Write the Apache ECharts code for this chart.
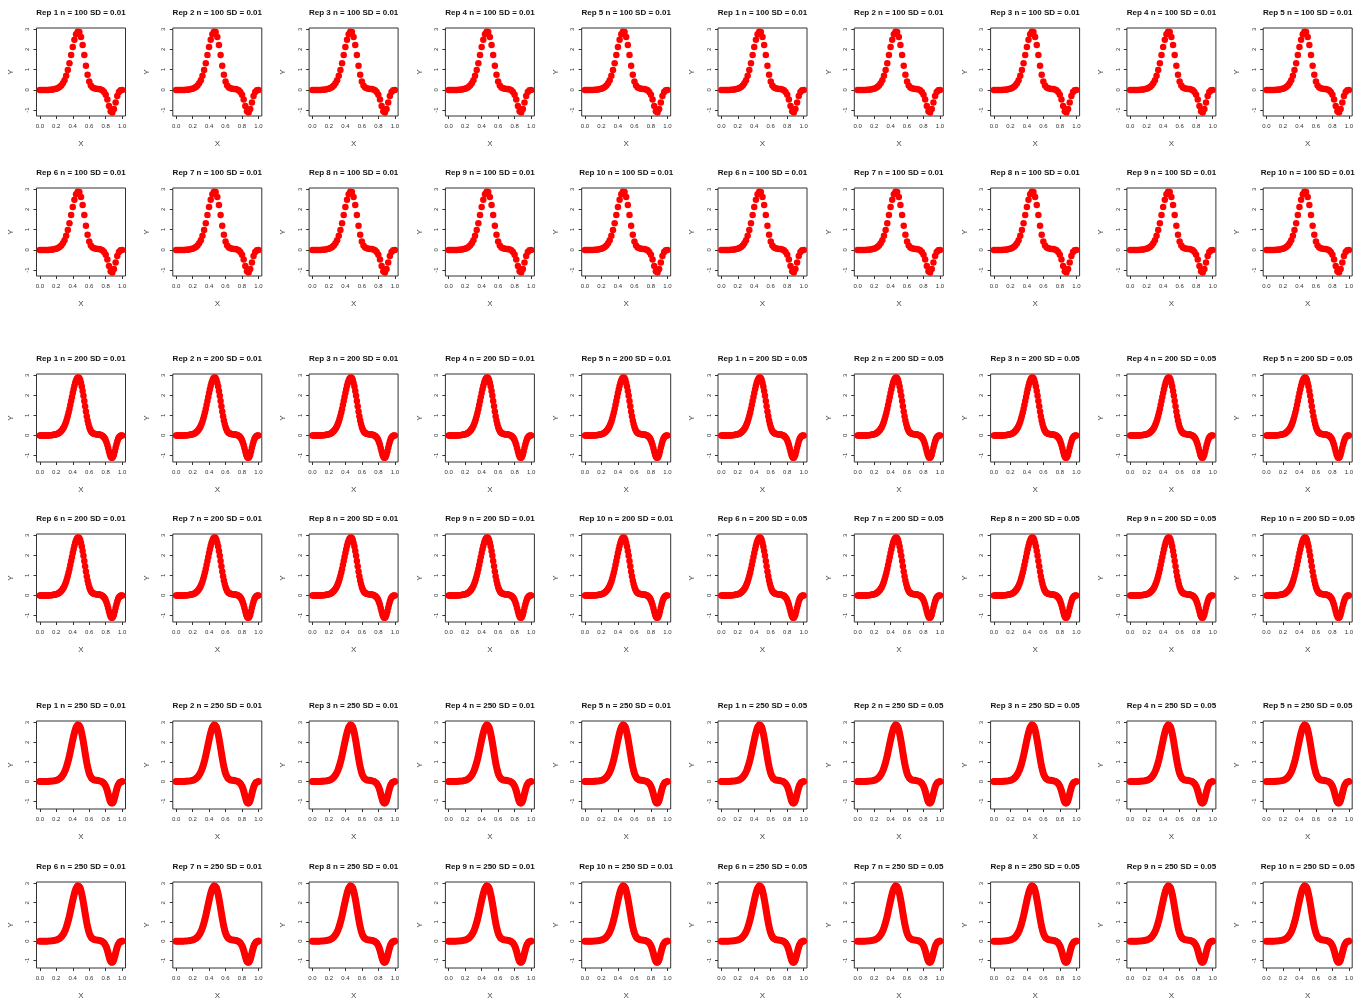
<!DOCTYPE html>
<html lang="en">
<head>
  <meta charset="UTF-8">
  <script src="https://cdn.jsdelivr.net/npm/echarts@6.0.0/dist/echarts.min.js"></script>
  <style>
    body, html { margin: 0; padding: 0; width: 100%; height: 100%; background: #fff; overflow: hidden; }
    #main { width: 1365px; height: 1001px; }
  </style>
</head>
<body>
  <div id="main"></div>
  <script type="text/javascript">
    // curve (x, y)
    var curveX = [0.00, 0.01, 0.02, 0.03, 0.04, 0.05, 0.06, 0.07, 0.08, 0.09,
      0.10, 0.11, 0.12, 0.13, 0.14, 0.15, 0.16, 0.17, 0.18, 0.19,
      0.20, 0.21, 0.22, 0.23, 0.24, 0.25, 0.26, 0.27, 0.28, 0.29,
      0.30, 0.31, 0.32, 0.33, 0.34, 0.35, 0.36, 0.37, 0.38, 0.39,
      0.40, 0.41, 0.42, 0.43, 0.44, 0.45, 0.46, 0.47, 0.48, 0.49,
      0.50, 0.51, 0.52, 0.53, 0.54, 0.55, 0.56, 0.57, 0.58, 0.59,
      0.60, 0.61, 0.62, 0.63, 0.64, 0.65, 0.66, 0.67, 0.68, 0.69,
      0.70, 0.71, 0.72, 0.73, 0.74, 0.75, 0.76, 0.77, 0.78, 0.79,
      0.80, 0.81, 0.82, 0.83, 0.84, 0.85, 0.86, 0.87, 0.88, 0.89,
      0.90, 0.91, 0.92, 0.93, 0.94, 0.95, 0.96, 0.97, 0.98, 0.99, 1.00];
    var curveY = [0.00, 0.00, 0.00, 0.00, 0.00, 0.00, 0.00, 0.00, 0.00, 0.00,
      0.00, 0.01, 0.01, 0.01, 0.01, 0.02, 0.02, 0.03, 0.04, 0.05,
      0.06, 0.07, 0.09, 0.11, 0.14, 0.18, 0.22, 0.27, 0.33, 0.40,
      0.48, 0.58, 0.70, 0.83, 0.98, 1.14, 1.32, 1.52, 1.72, 1.92,
      2.12, 2.31, 2.48, 2.63, 2.75, 2.83, 2.88, 2.89, 2.86, 2.77,
      2.62, 2.44, 2.22, 1.98, 1.72, 1.46, 1.20, 0.96, 0.75, 0.57,
      0.42, 0.31, 0.22, 0.16, 0.12, 0.10, 0.08, 0.07, 0.06, 0.06,
      0.05, 0.05, 0.04, 0.03, 0.02, 0.00, -0.02, -0.05, -0.10, -0.16,
      -0.24, -0.35, -0.48, -0.64, -0.80, -0.95, -1.06, -1.12, -1.12, -1.06,
      -0.95, -0.79, -0.62, -0.45, -0.30, -0.18, -0.10, -0.05, -0.02, 0.00, 0.00];

    // panel rows: sample size, first rep number, SD in left / right half
    var rowN = [100, 100, 200, 200, 250, 250];
    var rowRepStart = [1, 6, 1, 6, 1, 6];
    var rowSdLeft = ['0.01', '0.01', '0.01', '0.01', '0.01', '0.01'];
    var rowSdRight = ['0.01', '0.01', '0.05', '0.05', '0.05', '0.05'];
    var xTicks = [0, 0.2, 0.4, 0.6, 0.8, 1.0];
    var yTicks = [-1, 0, 1, 2, 3];
    var yLimits = { 100: [-1.29, 3.06], 200: [-1.33, 3.07], 250: [-1.4, 3.08] };

    var rowTop = [28, 188, 374, 534, 721, 882];
    var boxW = 89, boxH = 88;
    var font = 'Liberation Sans, Arial, sans-serif';

    var pts = curveX.map(function (x, i) { return [x, curveY[i]]; });
    var ptsSparse = pts.filter(function (p, i) { return i % 2 === 0; });

    // note: kept inside a function, a global "var top" would clash with window.top
    function buildOption() {
      var grids = [], xAxes = [], yAxes = [], titles = [], series = [];
      var idx = 0;
      for (var r = 0; r < 6; r++) {
        for (var c = 0; c < 10; c++) {
          var boxLeft = 36.5 + 136.3 * c;
          var boxTop = rowTop[r];
          var n = rowN[r];
          var rep = rowRepStart[r] + (c % 5);
          var sd = c < 5 ? rowSdLeft[r] : rowSdRight[r];
          grids.push({
            left: boxLeft, top: boxTop, width: boxW, height: boxH,
            show: true, borderColor: '#333', borderWidth: 1
          });
          xAxes.push({
            gridIndex: idx, type: 'value', min: -0.04, max: 1.04,
            name: 'X', nameLocation: 'middle', nameGap: 24,
            nameTextStyle: { fontSize: 8, color: '#444', fontFamily: font },
            splitLine: { show: false },
            axisLine: { show: false, onZero: false },
            axisTick: { show: true, length: 3, lineStyle: { color: '#333' }, customValues: xTicks.slice() },
            axisLabel: {
              fontSize: 6, color: '#333', margin: 7, fontFamily: font, customValues: xTicks.slice(),
              formatter: function (v) { return v.toFixed(1); }
            }
          });
          yAxes.push({
            gridIndex: idx, type: 'value', min: yLimits[n][0], max: yLimits[n][1],
            name: 'Y', nameLocation: 'middle', nameGap: 22, nameRotate: 90,
            nameTextStyle: { fontSize: 8, color: '#444', fontFamily: font },
            splitLine: { show: false },
            axisLine: { show: false, onZero: false },
            axisTick: { show: true, length: 3, lineStyle: { color: '#333' }, customValues: yTicks.slice() },
            axisLabel: { fontSize: 6, color: '#333', margin: 6, rotate: 90, fontFamily: font, customValues: yTicks.slice() }
          });
          titles.push({
            text: 'Rep ' + rep + ' n = ' + n + ' SD = ' + sd,
            left: boxLeft + boxW / 2, top: boxTop - 19, textAlign: 'center', padding: 0,
            textStyle: { fontSize: 8, fontWeight: 'bold', color: '#111', fontFamily: font }
          });
          if (n === 250) {
            series.push({
              type: 'line', xAxisIndex: idx, yAxisIndex: idx, data: pts.slice(),
              symbol: 'circle', symbolSize: 6, showSymbol: true,
              itemStyle: { color: '#ff0000' },
              lineStyle: { color: '#ff0000', width: 7, cap: 'round', join: 'round' },
              silent: true
            });
          } else {
            series.push({
              type: 'scatter', xAxisIndex: idx, yAxisIndex: idx,
              data: (n === 100 ? ptsSparse : pts).slice(),
              symbolSize: 6.5,
              itemStyle: { color: '#ff0000', opacity: 1 },
              silent: true
            });
          }
          idx++;
        }
      }
      return {
        backgroundColor: '#fff',
        animation: false,
        title: titles,
        grid: grids,
        xAxis: xAxes,
        yAxis: yAxes,
        series: series
      };
    }

    var myChart = echarts.init(document.getElementById('main'));
    myChart.setOption(buildOption());

    window.addEventListener('resize', function () {
      myChart.resize();
    });
  </script>
</body>
</html>
